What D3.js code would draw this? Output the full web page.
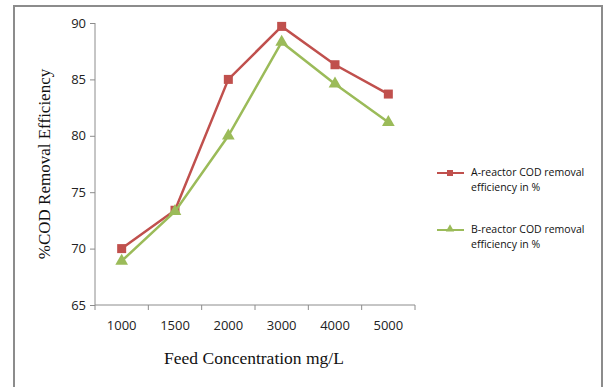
<!DOCTYPE html>
<html><head><meta charset="utf-8">
<script src="https://cdn.jsdelivr.net/npm/d3@7/dist/d3.min.js"></script>
<style>body{margin:0;background:#fff}svg{display:block}</style>
</head><body>
<script>
const categories = ["1000","1500","2000","3000","4000","5000"];
const seriesA = [70.0, 73.4, 85.0, 89.7, 86.3, 83.7];
const seriesB = [68.9, 73.3, 80.0, 88.3, 84.6, 81.2];
const yTicks = [65,70,75,80,85,90];
const seriesNames = ["A-reactor COD removal efficiency in %","B-reactor COD removal efficiency in %"];
const colors = ["#C0504D","#9BBB59"];

const W=604,H=387;
const svg=d3.select("body").append("svg").attr("width",W).attr("height",H);
svg.append("rect").attr("width",W).attr("height",H).attr("fill","#fff");
// outer border
svg.append("path").attr("d","M14,400 V6 H602 V400").attr("fill","none").attr("stroke","#8c8c8c").attr("stroke-width",2);

const pL=95,pR=415,pT=23,pB=305;
const x=d3.scaleBand().domain(categories).range([pL,pR]);
const y=d3.scaleLinear().domain([65,90]).range([pB,pT]);

const yAxis=svg.append("g").attr("transform",`translate(${pL},0)`)
  .call(d3.axisLeft(y).tickValues(yTicks).tickSize(5).tickPadding(4));
const xAxis=svg.append("g").attr("transform",`translate(0,${pB})`)
  .call(d3.axisBottom(x).tickSize(0).tickPadding(16));
// x boundary ticks
const bounds=categories.map(c=>x(c)).concat([pR]);
xAxis.selectAll(".bt").data(bounds).enter().append("line").attr("class","bt")
  .attr("x1",d=>d).attr("x2",d=>d).attr("y1",0).attr("y2",5);
svg.selectAll(".domain").attr("stroke","#8c8c8c");
svg.selectAll("g line").attr("stroke","#8c8c8c");
svg.selectAll("g text").attr("font-family","'Open Sans',sans-serif").attr("font-size",13).attr("fill","#222");
yAxis.select(".domain").attr("d",`M0,${pB}V${pT}`);
yAxis.selectAll(".tick line").attr("x2",-5);
xAxis.select(".domain").attr("d",`M${pL},0H${pR}`);

const line=d3.line().x((d,i)=>x(categories[i])+x.bandwidth()/2).y(d=>y(d));
const tri=d3.symbol().type(d3.symbolTriangle).size(70);
[seriesA,seriesB].forEach((s,k)=>{
  svg.append("path").attr("d",line(s)).attr("fill","none").attr("stroke",colors[k]).attr("stroke-width",2.5);
  const g=svg.append("g");
  s.forEach((v,i)=>{
    const cx=x(categories[i])+x.bandwidth()/2, cy=y(v);
    if(k===0) g.append("rect").attr("x",cx-4.5).attr("y",cy-4.5).attr("width",9).attr("height",9).attr("fill",colors[k]);
    else g.append("path").attr("d",tri()).attr("transform",`translate(${cx},${cy})`).attr("fill",colors[k]);
  });
});

// axis titles
svg.append("text").attr("transform","translate(50,164) rotate(-90)").attr("text-anchor","middle")
  .attr("font-family","'Liberation Serif',serif").attr("font-size",17).attr("fill","#111").text("%COD Removal Efficiency");
svg.append("text").attr("x",254).attr("y",364).attr("text-anchor","middle")
  .attr("font-family","'Liberation Serif',serif").attr("font-size",17.5).attr("fill","#111").text("Feed Concentration mg/L");

// legend
const ly=[173,230];
seriesNames.forEach((n,k)=>{
  const g=svg.append("g");
  g.append("line").attr("x1",437).attr("x2",464).attr("y1",ly[k]).attr("y2",ly[k]).attr("stroke",colors[k]).attr("stroke-width",2);
  if(k===0) g.append("rect").attr("x",447).attr("y",ly[k]-3).attr("width",6).attr("height",6).attr("fill",colors[k]);
  else g.append("path").attr("d",d3.symbol().type(d3.symbolTriangle).size(30)()).attr("transform",`translate(450,${ly[k]-1})`).attr("fill",colors[k]);
  const t=g.append("text").attr("font-family","'Open Sans',sans-serif").attr("font-size",10.5).attr("fill","#111");
  const words=n.split(" ");
  t.append("tspan").attr("x",471).attr("y",ly[k]+3).text(words.slice(0,3).join(" "));
  t.append("tspan").attr("x",471).attr("y",ly[k]+18).text(words.slice(3).join(" "));
});
</script>
</body></html>
